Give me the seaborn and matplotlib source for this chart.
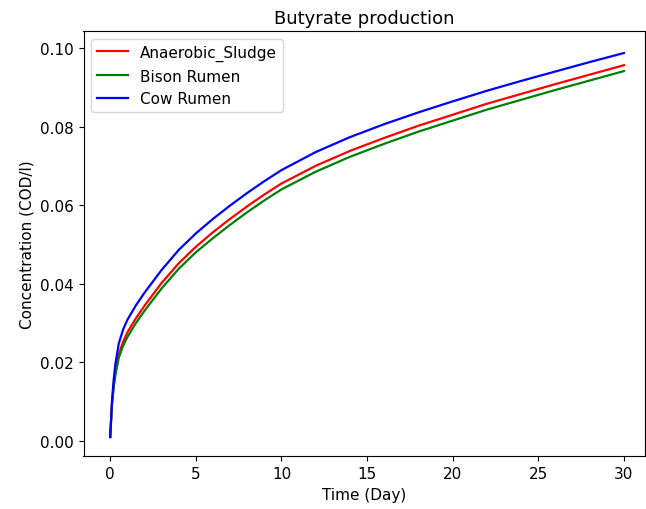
import matplotlib
matplotlib.use("Agg")
import matplotlib.pyplot as plt
import seaborn as sns
import pandas as pd

time_days = [0, 0.1, 0.2, 0.3, 0.5, 0.75, 1, 1.5, 2, 3, 4, 5, 6, 7, 8, 9, 10,
             12, 14, 16, 18, 20, 22, 24, 26, 28, 30]
anaerobic_sludge = [0.001, 0.0092, 0.0140, 0.0173, 0.0220, 0.0252, 0.0276, 0.0312, 0.0344,
                    0.0402, 0.0452, 0.0494, 0.0531, 0.0565, 0.0597, 0.0627, 0.0655,
                    0.0700, 0.0738, 0.0771, 0.0802, 0.0830, 0.0858, 0.0883, 0.0908,
                    0.0932, 0.0956]
bison_rumen = [0.001, 0.0090, 0.0136, 0.0167, 0.0212, 0.0242, 0.0264, 0.0300, 0.0331,
               0.0388, 0.0438, 0.0480, 0.0516, 0.0550, 0.0582, 0.0612, 0.0640,
               0.0685, 0.0723, 0.0756, 0.0787, 0.0815, 0.0843, 0.0868, 0.0893,
               0.0917, 0.0941]
cow_rumen = [0.001, 0.010, 0.0155, 0.0195, 0.0248, 0.0283, 0.0308, 0.0345, 0.0377,
             0.0435, 0.0486, 0.0528, 0.0565, 0.0599, 0.0631, 0.0661, 0.0689,
             0.0735, 0.0773, 0.0806, 0.0836, 0.0864, 0.0891, 0.0916, 0.0940,
             0.0964, 0.0987]

series_names = ["Anaerobic_Sludge", "Bison Rumen", "Cow Rumen"]
series_colors = ["red", "green", "blue"]

frames = []
for name, vals in zip(series_names, [anaerobic_sludge, bison_rumen, cow_rumen]):
    frames.append(pd.DataFrame({"Time": time_days, "Conc": vals, "Series": name}))
df = pd.concat(frames, ignore_index=True)

plt.rcParams["font.size"] = 11

fig = plt.figure(figsize=(6.46, 5.10), dpi=100)
W, H = 646, 510
left, right, top, bottom = 83.5, 645.0, 32.0, 457.3
ax = fig.add_axes([left / W, 1 - bottom / H, (right - left) / W, (bottom - top) / H])

sns.lineplot(data=df, x="Time", y="Conc", hue="Series", hue_order=series_names,
             palette=dict(zip(series_names, series_colors)), ax=ax, linewidth=1.6)

ax.set_xlim(-1.56, 31.23)
ax.set_ylim(-0.0039, 0.1043)
ax.set_xticks([0, 5, 10, 15, 20, 25, 30])
ax.set_yticks([0.0, 0.02, 0.04, 0.06, 0.08, 0.10])
ax.set_yticklabels(["0.00", "0.02", "0.04", "0.06", "0.08", "0.10"])
ax.tick_params(labelsize=11)
ax.set_title("Butyrate production", fontsize=13)
ax.set_xlabel("Time (Day)", fontsize=11)
ax.set_ylabel("Concentration (COD/l)", fontsize=11)
ax.legend(loc="upper left", title=None, fontsize=11)

fig.savefig("out.png", dpi=100)
